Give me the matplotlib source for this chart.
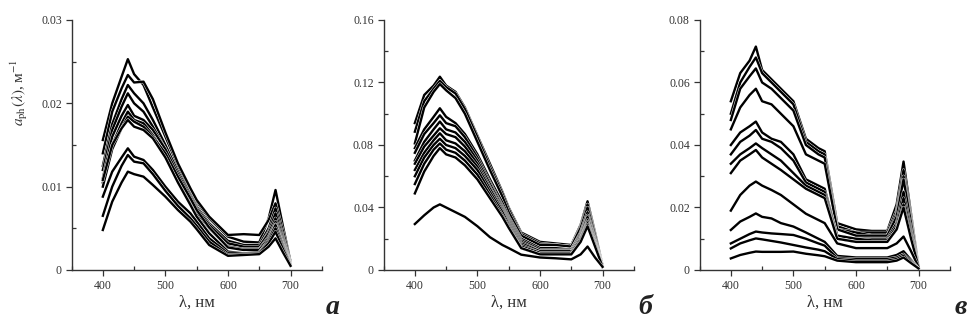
import matplotlib
matplotlib.use('Agg')
import matplotlib.pyplot as plt
import matplotlib.patheffects as pe
from matplotlib.ticker import MultipleLocator, FuncFormatter

plt.rcParams['font.family'] = ['Liberation Serif', 'DejaVu Serif']
plt.rcParams['mathtext.fontset'] = 'stix'

# wavelengths, nm
wl = [400, 415, 430, 440, 450, 465, 480, 500, 520, 540, 550, 570, 600, 625, 650, 665, 676, 688, 700]

# panel a: aph(lambda), 1/m
spectra_a = [
    [0.0156, 0.0200, 0.0232, 0.0253, 0.0235, 0.0222, 0.0195, 0.0160, 0.0125, 0.0095, 0.0082, 0.0062, 0.0040, 0.0034, 0.0033, 0.0062, 0.0096, 0.0052, 0.0010],
    [0.0140, 0.0190, 0.0218, 0.0234, 0.0225, 0.0226, 0.0205, 0.0165, 0.0128, 0.0098, 0.0084, 0.0064, 0.0042, 0.0043, 0.0042, 0.0060, 0.0080, 0.0046, 0.0010],
    [0.0125, 0.0175, 0.0205, 0.0222, 0.0212, 0.0200, 0.0180, 0.0150, 0.0118, 0.0090, 0.0076, 0.0056, 0.0035, 0.0030, 0.0030, 0.0050, 0.0074, 0.0040, 0.0008],
    [0.0120, 0.0168, 0.0196, 0.0212, 0.0200, 0.0190, 0.0172, 0.0145, 0.0112, 0.0085, 0.0072, 0.0052, 0.0030, 0.0027, 0.0027, 0.0046, 0.0068, 0.0037, 0.0008],
    [0.0110, 0.0160, 0.0185, 0.0198, 0.0185, 0.0180, 0.0168, 0.0145, 0.0115, 0.0088, 0.0074, 0.0054, 0.0032, 0.0028, 0.0028, 0.0044, 0.0062, 0.0034, 0.0007],
    [0.0105, 0.0150, 0.0176, 0.0190, 0.0180, 0.0176, 0.0162, 0.0138, 0.0108, 0.0082, 0.0069, 0.0050, 0.0028, 0.0025, 0.0025, 0.0040, 0.0058, 0.0032, 0.0007],
    [0.0100, 0.0145, 0.0170, 0.0184, 0.0178, 0.0172, 0.0160, 0.0140, 0.0112, 0.0086, 0.0072, 0.0051, 0.0027, 0.0024, 0.0024, 0.0038, 0.0055, 0.0030, 0.0006],
    [0.0108, 0.0150, 0.0170, 0.0180, 0.0172, 0.0168, 0.0158, 0.0135, 0.0105, 0.0078, 0.0064, 0.0044, 0.0022, 0.0020, 0.0021, 0.0036, 0.0054, 0.0029, 0.0006],
    [0.0088, 0.0118, 0.0135, 0.0146, 0.0136, 0.0132, 0.0120, 0.0100, 0.0082, 0.0068, 0.0058, 0.0038, 0.0020, 0.0020, 0.0021, 0.0034, 0.0050, 0.0027, 0.0006],
    [0.0065, 0.0100, 0.0125, 0.0138, 0.0130, 0.0128, 0.0115, 0.0095, 0.0077, 0.0062, 0.0053, 0.0034, 0.0018, 0.0019, 0.0020, 0.0032, 0.0046, 0.0025, 0.0005],
    [0.0048, 0.0082, 0.0105, 0.0118, 0.0115, 0.0112, 0.0102, 0.0088, 0.0072, 0.0058, 0.0049, 0.0030, 0.0017, 0.0018, 0.0019, 0.0028, 0.0038, 0.0021, 0.0005],
]

# panel b
spectra_b = [
    [0.094, 0.112, 0.118, 0.1237, 0.118, 0.114, 0.104, 0.086, 0.068, 0.050, 0.040, 0.024, 0.018, 0.017, 0.016, 0.029, 0.044, 0.024, 0.003],
    [0.0885, 0.108, 0.116, 0.121, 0.117, 0.113, 0.103, 0.085, 0.066, 0.049, 0.039, 0.023, 0.017, 0.016, 0.015, 0.028, 0.042, 0.023, 0.003],
    [0.081, 0.104, 0.114, 0.119, 0.115, 0.110, 0.100, 0.082, 0.064, 0.047, 0.037, 0.022, 0.016, 0.016, 0.015, 0.027, 0.040, 0.022, 0.003],
    [0.078, 0.090, 0.098, 0.1035, 0.098, 0.094, 0.087, 0.074, 0.058, 0.043, 0.034, 0.020, 0.014, 0.014, 0.013, 0.024, 0.037, 0.020, 0.003],
    [0.075, 0.087, 0.094, 0.099, 0.094, 0.092, 0.085, 0.072, 0.056, 0.041, 0.033, 0.019, 0.013, 0.013, 0.013, 0.023, 0.035, 0.019, 0.003],
    [0.070, 0.082, 0.090, 0.095, 0.090, 0.088, 0.082, 0.070, 0.055, 0.040, 0.032, 0.018, 0.012, 0.012, 0.012, 0.022, 0.034, 0.018, 0.003],
    [0.068, 0.079, 0.086, 0.0907, 0.087, 0.085, 0.079, 0.068, 0.053, 0.039, 0.031, 0.017, 0.012, 0.012, 0.012, 0.021, 0.032, 0.017, 0.003],
    [0.064, 0.075, 0.083, 0.0875, 0.083, 0.081, 0.076, 0.066, 0.052, 0.038, 0.030, 0.016, 0.011, 0.011, 0.011, 0.020, 0.031, 0.017, 0.002],
    [0.060, 0.072, 0.080, 0.084, 0.080, 0.078, 0.073, 0.064, 0.050, 0.037, 0.029, 0.015, 0.011, 0.011, 0.011, 0.020, 0.030, 0.016, 0.002],
    [0.055, 0.068, 0.077, 0.081, 0.077, 0.075, 0.070, 0.061, 0.048, 0.035, 0.028, 0.014, 0.010, 0.010, 0.010, 0.019, 0.029, 0.016, 0.002],
    [0.049, 0.063, 0.073, 0.078, 0.074, 0.072, 0.067, 0.058, 0.046, 0.034, 0.027, 0.014, 0.010, 0.010, 0.010, 0.018, 0.028, 0.015, 0.002],
    [0.0294, 0.035, 0.040, 0.042, 0.040, 0.037, 0.034, 0.028, 0.021, 0.016, 0.014, 0.0098, 0.008, 0.0075, 0.0068, 0.010, 0.015, 0.008, 0.002],
]

# panel c
spectra_c = [
    [0.054, 0.063, 0.067, 0.0715, 0.064, 0.061, 0.058, 0.054, 0.042, 0.039, 0.038, 0.015, 0.013, 0.0125, 0.0125, 0.021, 0.0347, 0.018, 0.001],
    [0.050, 0.060, 0.065, 0.068, 0.063, 0.060, 0.057, 0.053, 0.041, 0.038, 0.037, 0.014, 0.012, 0.012, 0.012, 0.019, 0.032, 0.017, 0.001],
    [0.048, 0.058, 0.062, 0.0645, 0.060, 0.058, 0.055, 0.051, 0.040, 0.037, 0.036, 0.013, 0.012, 0.011, 0.011, 0.018, 0.030, 0.016, 0.001],
    [0.045, 0.052, 0.056, 0.058, 0.054, 0.053, 0.050, 0.046, 0.037, 0.035, 0.034, 0.013, 0.011, 0.011, 0.011, 0.017, 0.029, 0.015, 0.001],
    [0.040, 0.044, 0.046, 0.0475, 0.044, 0.042, 0.041, 0.037, 0.029, 0.027, 0.026, 0.011, 0.010, 0.010, 0.010, 0.015, 0.025, 0.013, 0.001],
    [0.037, 0.041, 0.043, 0.0448, 0.042, 0.041, 0.039, 0.035, 0.028, 0.026, 0.025, 0.011, 0.010, 0.0095, 0.0095, 0.014, 0.023, 0.012, 0.001],
    [0.034, 0.037, 0.039, 0.0405, 0.039, 0.037, 0.035, 0.031, 0.027, 0.025, 0.024, 0.010, 0.009, 0.009, 0.009, 0.013, 0.021, 0.011, 0.001],
    [0.031, 0.035, 0.037, 0.0384, 0.036, 0.034, 0.032, 0.029, 0.026, 0.024, 0.023, 0.010, 0.009, 0.009, 0.009, 0.013, 0.020, 0.010, 0.001],
    [0.019, 0.024, 0.027, 0.0283, 0.027, 0.0256, 0.024, 0.021, 0.018, 0.016, 0.015, 0.0085, 0.007, 0.007, 0.007, 0.0085, 0.0107, 0.006, 0.001],
    [0.0128, 0.0155, 0.017, 0.0181, 0.017, 0.0165, 0.015, 0.0139, 0.012, 0.010, 0.009, 0.0045, 0.004, 0.004, 0.004, 0.0048, 0.006, 0.0032, 0.0005],
    [0.0085, 0.010, 0.0115, 0.0123, 0.012, 0.0117, 0.0115, 0.0112, 0.010, 0.0085, 0.0078, 0.0038, 0.0035, 0.0035, 0.0035, 0.004, 0.005, 0.0028, 0.0005],
    [0.0069, 0.0085, 0.0095, 0.0101, 0.0098, 0.0093, 0.0088, 0.008, 0.0072, 0.0065, 0.006, 0.0035, 0.003, 0.003, 0.003, 0.0035, 0.0045, 0.0025, 0.0005],
    [0.0037, 0.0048, 0.0055, 0.0059, 0.0058, 0.0058, 0.0058, 0.0059, 0.0052, 0.0047, 0.0044, 0.003, 0.0025, 0.0025, 0.0025, 0.003, 0.004, 0.0022, 0.0005],
]

panels = [
    (spectra_a, 0.03, 0.01, 'а'),
    (spectra_b, 0.16, 0.04, 'б'),
    (spectra_c, 0.08, 0.02, 'в'),
]
lefts = [0.0736, 0.3946, 0.7197]

fig = plt.figure(figsize=(9.72, 3.24), dpi=100)
gray = '#333333'

def fmt(v, pos):
    return '0' if abs(v) < 1e-12 else '{:g}'.format(v)

for (spectra, ymax, ystep, letter), left in zip(panels, lefts):
    ax = fig.add_axes([left, 0.1667, 0.2575, 0.7716])
    for s in spectra:
        ax.plot(wl, s, color='black', lw=1.7,
                path_effects=[pe.Stroke(linewidth=2.3, foreground='white'), pe.Normal()])
    ax.set_xlim(350, 750)
    ax.set_ylim(0, ymax)
    ax.spines['top'].set_visible(False)
    ax.spines['right'].set_visible(False)
    for sp in ('left', 'bottom'):
        ax.spines[sp].set_color(gray)
        ax.spines[sp].set_linewidth(1.0)
    ax.xaxis.set_minor_locator(MultipleLocator(50))
    ax.yaxis.set_major_locator(MultipleLocator(ystep))
    ax.yaxis.set_minor_locator(MultipleLocator(ystep / 2))
    ax.set_xticks([400, 500, 600, 700])
    ax.yaxis.set_major_formatter(FuncFormatter(fmt))
    ax.tick_params(which='major', direction='out', length=4, width=0.9,
                   color=gray, labelsize=8.5, labelcolor=gray, pad=3)
    ax.tick_params(which='minor', direction='in', length=3, width=0.9, color=gray)
    ax.set_xlabel('λ, нм', fontsize=12, color=gray, labelpad=2)
    ax.text(1.045, -0.15, letter, transform=ax.transAxes, fontsize=20,
            fontweight='bold', fontstyle='italic', ha='center', va='center',
            color='#222222')
    if letter == 'а':
        ax.text(-0.21, 0.71, r'$a_{\mathrm{ph}}(\lambda)$, м$^{-1}$',
                transform=ax.transAxes, rotation=90, fontsize=11,
                ha='center', va='center', color=gray)

fig.savefig('out.png', dpi=100)
